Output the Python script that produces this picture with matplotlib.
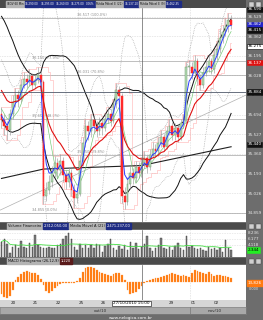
import numpy as np
import pandas as pd
import matplotlib
matplotlib.use("Agg")
import matplotlib.pyplot as plt
from matplotlib.transforms import blended_transform_factory

# ---------------- data ----------------
prior_close = [36.45, 36.50, 36.52, 36.48, 36.40, 36.42, 36.35, 36.30, 36.25, 36.20,
               36.15, 36.05, 36.00, 35.95, 35.90, 35.85, 35.80, 35.75, 35.72, 35.68]
close = [35.65, 35.60, 35.56, 35.70, 35.80, 35.86, 35.83,
         35.95, 36.00, 35.97, 36.02, 35.95, 35.99, 36.03, 35.97,
         35.00,
         35.05, 35.12, 35.20, 35.28, 35.22, 35.30, 35.18, 35.12, 35.20, 35.05, 34.98, 35.02,
         35.30, 35.45, 35.60, 35.55, 35.65,
         35.60, 35.55, 35.62, 35.58, 35.66, 35.70, 35.64, 35.78, 35.90,
         35.85, 35.00,
         34.95, 35.10, 35.20, 35.15, 35.25, 35.20,
         35.28, 35.32, 35.25, 35.35, 35.40, 35.38, 35.45, 35.50, 35.42,
         35.55, 35.60, 35.52, 35.58, 35.50, 35.62,
         35.65, 36.10,
         36.10, 36.05, 36.15, 36.00, 35.95, 36.05,
         36.10, 36.15, 36.08, 36.20, 36.25,
         36.35, 36.40, 36.45, 36.50, 36.46]
first_open = 35.70
high = [35.76, 35.70, 35.64, 35.74, 35.86, 35.92, 35.90, 36.00, 36.06, 36.04,
        36.08, 36.05, 36.04, 36.10, 36.06, 35.99, 35.12, 35.18, 35.26, 35.34,
        35.32, 35.36, 35.33, 35.22, 35.25, 35.23, 35.10, 35.08, 35.35, 35.50,
        35.66, 35.64, 35.70, 35.68, 35.64, 35.67, 35.66, 35.71, 35.76, 35.74,
        35.83, 35.96, 35.94, 35.88, 35.08, 35.16, 35.26, 35.24, 35.30, 35.29,
        35.33, 35.38, 35.35, 35.40, 35.46, 35.44, 35.50, 35.56, 35.53, 35.60,
        35.66, 35.63, 35.62, 35.61, 35.66, 35.70, 36.14, 36.16, 36.14, 36.20,
        36.18, 36.04, 36.10, 36.15, 36.20, 36.18, 36.25, 36.32, 36.42, 36.46,
        36.52, 36.56, 36.54]
low = [35.58, 35.52, 35.48, 35.52, 35.66, 35.76, 35.76, 35.80, 35.92, 35.92,
       35.94, 35.90, 35.92, 35.96, 35.93, 34.93, 34.96, 35.02, 35.08, 35.16,
       35.16, 35.18, 35.12, 35.06, 35.08, 35.00, 34.90, 34.94, 35.00, 35.26,
       35.42, 35.48, 35.50, 35.54, 35.50, 35.52, 35.52, 35.55, 35.62, 35.60,
       35.62, 35.75, 35.80, 34.94, 34.89, 34.92, 35.06, 35.10, 35.12, 35.15,
       35.16, 35.24, 35.20, 35.22, 35.32, 35.33, 35.34, 35.42, 35.38, 35.40,
       35.52, 35.48, 35.48, 35.46, 35.48, 35.58, 35.62, 36.02, 36.00, 36.02,
       35.95, 35.90, 35.92, 36.02, 36.06, 36.04, 36.05, 36.16, 36.22, 36.30,
       36.36, 36.40, 36.42]
volume = [5200, 6100, 4500, 1400, 3400, 4000, 2900, 5400, 3400, 2900,
          4800, 3400, 7500, 4000, 3400, 2900, 2900, 3400, 2900, 2900,
          4000, 4500, 6100, 7000, 8100, 5900, 3400, 2300, 4500, 2900,
          4000, 2900, 4000, 2900, 4500, 4000, 1700, 3600, 4500, 6000,
          3000, 2500, 3800, 2600, 3900, 2200, 5000, 3100, 4600, 2800,
          3500, 4400, 7000, 3200, 2100, 3000, 4200, 6500, 3000, 2800,
          3400, 2500, 3600, 4800, 3000, 2200, 7200, 3500, 3800, 3000,
          2700, 3200, 2500, 2000, 3400, 2600, 3000, 2200, 3000, 1800,
          5800, 3000, 2344]
macd_hist = [-12, -15, -16, -14, -8, 2, 5, 8, 10, 11,
             10, 9, 9, 7, 3, -3, -9, -11, -9, -6,
             -4, -2, -1, -1, -1, -0.5, -1, 1, 4, 10,
             14, 15, 15, 14, 12, 10, 9, 8, 7, 6,
             8, 9, 9, 7, 2, -8, -12, -11, -10, -7,
             -4, -1, 1, 2, 3, 4, 4, 5, 6, 7,
             8, 9, 8, 7, 6, 7, 6, 5, 9, 12,
             11, 10, 9, 8, 10, 8, 6, 7, 7, 6,
             6, 5, 4]
long_ma_bars = [0, 15, 50, 82]
long_ma_vals = [35.15, 35.23, 35.26, 35.42]
trend_bars = [-0.5, 87.3]
trend_vals = [34.88, 35.86]
fib_low, fib_high = 34.855, 36.517
fib_prices = [36.517, 36.150, 36.031, 35.656, 35.350, 34.855]
price_ticks = [34.859, 35.026, 35.193, 35.360, 35.527, 35.694, 35.861, 36.028, 36.195, 36.362, 36.529]
vol_ticks = [4118, 6177, 8236]
day_labels = ["20", "21", "22", "25", "26", "29", "01", "02"]
day_label_bars = [4.1, 12.0, 20.2, 28.4, 36.3, 60.5, 68.4, 76.6]
cross_bar, cross_price = 50.2, 35.884
cross_label = "27/10/2010 15:00"
month_labels = ["out/10", "nov/10"]
month_label_bars = [35.2, 76.3]
month_sep_bar = 67.3
title_items = [("IBOV 60 Min", "g"), ("36.290,00", "b"), ("36.295,00", "b"), ("36.260,00", "b"),
               ("36.275,00", "b"), ("0,06%", "b"), ("Média Móvel E (21)", "g"), ("36.137,10", "b"),
               ("Média Móvel E (9)", "g"), ("36.462,35", "b")]
vol_items = [("Volume Financeiro", "g"), ("2.312.050,00", "b"), ("Média Móvel A (21)", "g"),
             ("2.471.237,00", "b")]
macd_items = [("MACD Histograma (26,12,9)", "g"), ("1,220", "r")]

# ---------------- derived ----------------
n = len(close)
x = np.arange(n)
opens = [first_open] + close[:-1]
s = pd.Series(prior_close + close)
k = len(prior_close)
ema_red = s.ewm(span=13, adjust=False).mean().values[k:]
ema_blue = s.ewm(span=3, adjust=False).mean().values[k:]
sma_green = s.rolling(6, min_periods=1).mean().values[k:]
mid = s.rolling(20, min_periods=1).mean()
sd = s.rolling(20, min_periods=2).std(ddof=0).bfill()
bb_up = (mid + 1.5 * sd).values[k:]
bb_lo = (mid - 1.5 * sd).values[k:]
mid10 = s.rolling(10, min_periods=1).mean()
sd10 = s.rolling(10, min_periods=2).std(ddof=0).bfill()
dot_up = (mid10 + 2.5 * sd10).values[k:]
dot_lo = (mid10 - 2.5 * sd10).values[k:]
hs = pd.Series(high).rolling(4, min_periods=1).max().values
ls = pd.Series(low).rolling(4, min_periods=1).min().values
vol_ma = pd.Series(volume).rolling(21, min_periods=1).mean().values

# ---------------- figure ----------------
W, H = 263, 320
fig = plt.figure(figsize=(W / 100, H / 100), dpi=100)
FRAME = "#6d6d6d"
fig.patch.set_facecolor(FRAME)
renderer = fig.canvas.get_renderer()


def R(x0, y0, x1, y1):
    return [x0 / W, 1 - y1 / H, (x1 - x0) / W, (y1 - y0) / H]


def ft(xp, yp, txt, **kw):
    return fig.text(xp / W, 1 - yp / H, txt, **kw)


XL = (-1.5 / 2.8, (246 - 1.5) / 2.8)
FS = 3.0
TICKC = "#e6e6e6"

# ---- main panel
ax = fig.add_axes(R(0, 8, 246, 222))
ax.set_facecolor("white")
ax.set_xlim(*XL)
ax.set_ylim(34.779, 36.602)
for sp in ax.spines.values():
    sp.set_visible(False)
ax.set_xticks([])
ax.yaxis.tick_right()
ax.set_yticks(price_ticks)
ax.set_yticklabels([f"{v:.3f}" for v in price_ticks])
ax.tick_params(axis="y", length=0, pad=1.2, labelsize=FS, labelcolor=TICKC)
for t in price_ticks:
    ax.axhline(t, color="#b8b8b8", lw=0.4, ls=(0, (1, 2)), zorder=0)
for b in [27.5, month_sep_bar]:
    ax.axvline(b, color="#b8b8b8", lw=0.4, ls=(0, (1, 2)), zorder=0)

# fibonacci lines
for i, fp in enumerate(fib_prices):
    ax.axhline(fp, color="#a5a5a5", lw=0.5, zorder=1)
    pct = (fp - fib_low) / (fib_high - fib_low) * 100
    lx = 27 if i % 2 == 0 else 11
    ax.text(lx, fp + 0.008, f"{fp:.3f} ({pct:.1f}%)", fontsize=2.5, color="#8a8a8a",
            va="bottom", ha="left", zorder=2)

ax.plot(trend_bars, trend_vals, color="#b0b0b0", lw=0.5, zorder=1)
ax.plot(long_ma_bars, long_ma_vals, color="#202020", lw=0.8, zorder=3)
ax.plot(x, dot_up, color="#a0a0a0", lw=0.5, ls=(0, (1, 1.5)), zorder=2)
ax.plot(x, dot_lo, color="#a0a0a0", lw=0.5, ls=(0, (1, 1.5)), zorder=2)
ax.step(x, hs, where="mid", color="#ffb0b0", lw=0.4, zorder=2)
ax.step(x, ls, where="mid", color="#ffb0b0", lw=0.4, zorder=2)
ax.plot(x, sma_green, color="#70c870", lw=0.45, zorder=4)
ax.plot(x, bb_up, color="#111111", lw=0.7, zorder=4)
ax.plot(x, bb_lo, color="#111111", lw=0.7, zorder=4)

# candles
o = np.array(opens)
c = np.array(close)
up = c >= o
ax.vlines(x, low, high, color="#909090", lw=0.4, zorder=5)
bot = np.minimum(o, c)
hgt = np.maximum(np.abs(c - o), 0.006)
ax.bar(x[up], hgt[up], bottom=bot[up], width=0.7, color="#b5dcb5", edgecolor="#6f9a6f",
       lw=0.35, zorder=6)
ax.bar(x[~up], hgt[~up], bottom=bot[~up], width=0.7, color="#ff2a2a", edgecolor="#ff2a2a",
       lw=0.35, zorder=6)
ax.plot(x, ema_blue, color="#2a3cff", lw=0.7, zorder=7)
ax.plot(x, ema_red, color="#e01010", lw=0.8, zorder=7)

# crosshair
ax.axhline(cross_price, color="#505a6a", lw=0.6, zorder=8)
ax.axvline(cross_bar, color="#606060", lw=0.5, zorder=8)

# right boxed labels
tr = blended_transform_factory(ax.transAxes, ax.transData)


def box(axx, trans, yv, txt, fc, tc="white", ec=None):
    axx.text(1.006, yv, txt, transform=trans, fontsize=FS, color=tc, va="center", ha="left",
             bbox=dict(boxstyle="square,pad=0.2", fc=fc, ec=ec or fc, lw=0.4), zorder=10,
             clip_on=False)


box(ax, tr, 36.590, "36.590", "#111111")
box(ax, tr, 36.462, "36.462", "#2424c8")
box(ax, tr, 36.415, "36.415", "#111111")
box(ax, tr, 36.275, "36.275", "white", tc="black", ec="black")
box(ax, tr, 36.137, "36.137", "#e01010")
box(ax, tr, cross_price, f"{cross_price:.3f}", "#111111")
box(ax, tr, 35.440, "35.440", "#111111")

# ---- volume panel
av = fig.add_axes(R(0, 230, 246, 257))
av.set_facecolor("white")
av.set_xlim(*XL)
av.set_ylim(0, 9100)
for sp in av.spines.values():
    sp.set_visible(False)
av.set_xticks([])
av.yaxis.tick_right()
av.set_yticks(vol_ticks)
av.set_yticklabels([f"{v/1000:.3f}" for v in vol_ticks])
av.tick_params(axis="y", length=0, pad=1.2, labelsize=FS, labelcolor=TICKC)
for t in vol_ticks:
    av.axhline(t, color="#c0c0c0", lw=0.4, ls=(0, (1, 2)), zorder=0)
av.axvline(month_sep_bar, color="#b8b8b8", lw=0.4, ls=(0, (1, 2)), zorder=0)
av.bar(x, volume, width=0.55, color="#7c7c7c", edgecolor="#3a3a3a", lw=0.3, zorder=2)
av.plot(x, vol_ma, color="#44dd44", lw=0.6, zorder=3)
av.axvline(cross_bar, color="#606060", lw=0.5, zorder=4)
trv = blended_transform_factory(av.transAxes, av.transData)
box(av, trv, volume[-1], f"{volume[-1]/1000:.3f}", "#22ee22", tc="black")

# ---- MACD panel
am = fig.add_axes(R(0, 265, 246, 300))
am.set_facecolor("white")
am.set_xlim(*XL)
am.set_ylim(-18, 17)
for sp in am.spines.values():
    sp.set_visible(False)
am.set_xticks([])
am.set_yticks([])
am.axvline(month_sep_bar, color="#b8b8b8", lw=0.4, ls=(0, (1, 2)), zorder=0)
am.bar(x, macd_hist, width=0.6, color="#ff7a10", edgecolor="#ff9a40", lw=0.2, zorder=2)
am.axvline(cross_bar, color="#606060", lw=0.5, zorder=4)
ft(247.5, 283, "13,826", fontsize=FS, color="white", va="center",
   bbox=dict(boxstyle="square,pad=0.2", fc="#ff7a10", ec="#ff7a10"))
ft(249, 289, "0,000", fontsize=2.5, color="#e0e0e0", va="center")

# ---- x label strips
ax_x = fig.add_axes(R(0, 300, 246, 307))
ax_x.set_facecolor("#d6d6d6")
ax_x.set_xlim(*XL)
ax_x.set_ylim(0, 1)
ax_x.set_xticks([]); ax_x.set_yticks([])
for sp in ax_x.spines.values():
    sp.set_visible(False)
for lb, b in zip(day_labels, day_label_bars):
    ax_x.text(b, 0.5, lb, fontsize=FS, color="#202020", ha="center", va="center")
ax_x.text(cross_bar - 3.8, 0.5, cross_label, fontsize=FS, color="black", ha="center", va="center",
          bbox=dict(boxstyle="square,pad=0.2", fc="white", ec="black", lw=0.4))

ax_m = fig.add_axes(R(0, 307, 246, 314))
ax_m.set_facecolor("#a8a8a8")
ax_m.set_xlim(*XL)
ax_m.set_ylim(0, 1)
ax_m.set_xticks([]); ax_m.set_yticks([])
for sp in ax_m.spines.values():
    sp.set_color("#808080"); sp.set_linewidth(0.4)
for lb, b in zip(month_labels, month_label_bars):
    ax_m.text(b, 0.5, lb, fontsize=FS, color="#303030", ha="center", va="center")
ax_m.axvline(month_sep_bar, color="#808080", lw=0.6)

ft(131, 317.5, "www.nelogica.com.br", fontsize=3.0, color="white", ha="center", va="center")

# ---- header bars
def header(y0, y1):
    fig.patches.append(plt.Rectangle((0, 1 - y1 / H), 246 / W, (y1 - y0) / H,
                                     transform=fig.transFigure, fc="#4a4a4a", ec="none"))


header(0, 8)
header(223, 229)
header(258, 264)

CHIP = {"g": ("#b4b4b4", "#101010"), "b": ("#1e2c84", "white"), "r": ("#5a1a1a", "white")}


def chips(x0, yp, items, fs, gap):
    xp = x0
    for txt, kind in items:
        fc, tc = CHIP[kind]
        t = ft(xp, yp, txt, fontsize=fs, color=tc, va="center", ha="left",
               bbox=dict(boxstyle="square,pad=0.2", fc=fc, ec=fc))
        bb = t.get_window_extent(renderer)
        xp = bb.x1 + gap


chips(7, 4, title_items, 2.0, 1.6)
chips(8, 226, vol_items, 2.6, 2.0)
chips(8, 261, macd_items, 2.6, 2.0)

# small window icons
for yy in (4, 226, 261):
    for xx in (249, 256):
        fig.patches.append(plt.Rectangle((xx / W, 1 - (yy + 2.5) / H), 5 / W, 5 / H,
                                         transform=fig.transFigure, fc="#d0d0d0", ec="#404040",
                                         lw=0.3))

fig.savefig("out.png", dpi=100, facecolor=fig.get_facecolor())
